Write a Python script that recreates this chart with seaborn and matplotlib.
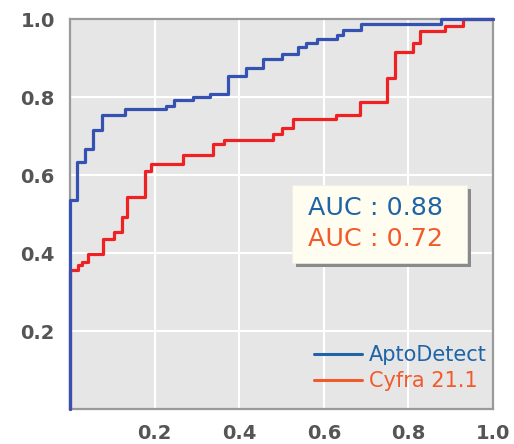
import numpy as np
import pandas as pd
import matplotlib
matplotlib.use("Agg")
import matplotlib.pyplot as plt
import seaborn as sns
from matplotlib.lines import Line2D
from matplotlib.patches import Rectangle

# ---- data ----
series_names = ["AptoDetect", "Cyfra 21.1"]
apto_fpr = [0, 0, 0.017, 0.036, 0.055, 0.075, 0.130, 0.227, 0.246, 0.291, 0.332,
            0.374, 0.415, 0.457, 0.500, 0.538, 0.559, 0.583, 0.630, 0.645, 0.687,
            0.877, 1.0]
apto_tpr = [0, 0.536, 0.633, 0.667, 0.715, 0.754, 0.769, 0.777, 0.792, 0.800, 0.808,
            0.854, 0.874, 0.897, 0.910, 0.928, 0.938, 0.949, 0.959, 0.972, 0.987,
            1.0, 1.0]
cyfra_fpr = [0, 0, 0.019, 0.029, 0.043, 0.078, 0.104, 0.123, 0.135, 0.178, 0.192,
             0.268, 0.337, 0.365, 0.479, 0.502, 0.526, 0.628, 0.685, 0.749, 0.768,
             0.810, 0.827, 0.886, 0.929, 1.0]
cyfra_tpr = [0, 0.356, 0.369, 0.377, 0.397, 0.436, 0.454, 0.492, 0.544, 0.610, 0.628,
             0.651, 0.679, 0.690, 0.705, 0.720, 0.743, 0.754, 0.787, 0.849, 0.915,
             0.939, 0.969, 0.982, 1.0, 1.0]
auc_labels = ["AUC : 0.88", "AUC : 0.72"]
x_ticks = [0.2, 0.4, 0.6, 0.8, 1.0]
y_ticks = [0.2, 0.4, 0.6, 0.8, 1.0]

curve_colors = {"AptoDetect": "#3552b2", "Cyfra 21.1": "#ee2222"}
text_colors = {"AptoDetect": "#1f64a6", "Cyfra 21.1": "#f25a2c"}

df = pd.concat([
    pd.DataFrame({"fpr": apto_fpr, "tpr": apto_tpr, "series": series_names[0]}),
    pd.DataFrame({"fpr": cyfra_fpr, "tpr": cyfra_tpr, "series": series_names[1]}),
], ignore_index=True)

sns.set_theme(style="darkgrid")
plt.rcParams["font.family"] = ["DejaVu Sans"]

fig = plt.figure(figsize=(5.14, 4.44), dpi=100)
ax = fig.add_axes([0.1362, 0.0788, 0.823, 0.878])
ax.set_facecolor("#e6e6e6")

# draw red first, blue on top
for name in [series_names[1], series_names[0]]:
    sub = df[df["series"] == name]
    sns.lineplot(data=sub, x="fpr", y="tpr", color=curve_colors[name],
                 drawstyle="steps-post", estimator=None, sort=False,
                 lw=2.3, ax=ax, legend=False, clip_on=False, zorder=4)

ax.set_xlim(0, 1)
ax.set_ylim(0, 1)
ax.set_xticks(x_ticks)
ax.set_yticks(y_ticks)
ax.set_xticklabels([f"{t:.1f}" for t in x_ticks])
ax.set_yticklabels([f"{t:.1f}" for t in y_ticks])
ax.set_xlabel("")
ax.set_ylabel("")
ax.grid(True, color="white", lw=1.5)
ax.tick_params(length=0, labelsize=14, labelcolor="#555555", pad=11)
for lab in ax.get_xticklabels() + ax.get_yticklabels():
    lab.set_fontweight("bold")
for side, sp in ax.spines.items():
    sp.set_visible(True)
    sp.set_color("#9a9a9a")
    sp.set_linewidth(1.6)
    sp.set_zorder(3)

# AUC box with shadow
bx0, bx1, by0, by1 = 0.525, 0.939, 0.374, 0.574
dx, dy = 0.0095, -0.0105
ax.add_patch(Rectangle((bx0 + dx, by0 + dy), bx1 - bx0, by1 - by0,
                       transform=ax.transAxes, facecolor="#8a8a8a",
                       edgecolor="none", zorder=6))
ax.add_patch(Rectangle((bx0, by0), bx1 - bx0, by1 - by0,
                       transform=ax.transAxes, facecolor="#fffdf0",
                       edgecolor="#eeeeee", lw=0.5, zorder=7))
ax.text(0.563, 0.515, auc_labels[0], transform=ax.transAxes, fontsize=18.3,
        color=text_colors["AptoDetect"], va="center", ha="left", zorder=8)
ax.text(0.563, 0.436, auc_labels[1], transform=ax.transAxes, fontsize=18.3,
        color=text_colors["Cyfra 21.1"], va="center", ha="left", zorder=8)

# legend
handles = [Line2D([], [], color=text_colors[n], lw=2.2) for n in series_names]
leg = ax.legend(handles, series_names, loc="lower right",
                bbox_to_anchor=(0.985, 0.045), frameon=False, fontsize=15,
                handlelength=2.3, handletextpad=0.35, labelspacing=0.3,
                borderpad=0, borderaxespad=0)
for t, n in zip(leg.get_texts(), series_names):
    t.set_color(text_colors[n])

fig.savefig("out.png", dpi=100, facecolor="white")
